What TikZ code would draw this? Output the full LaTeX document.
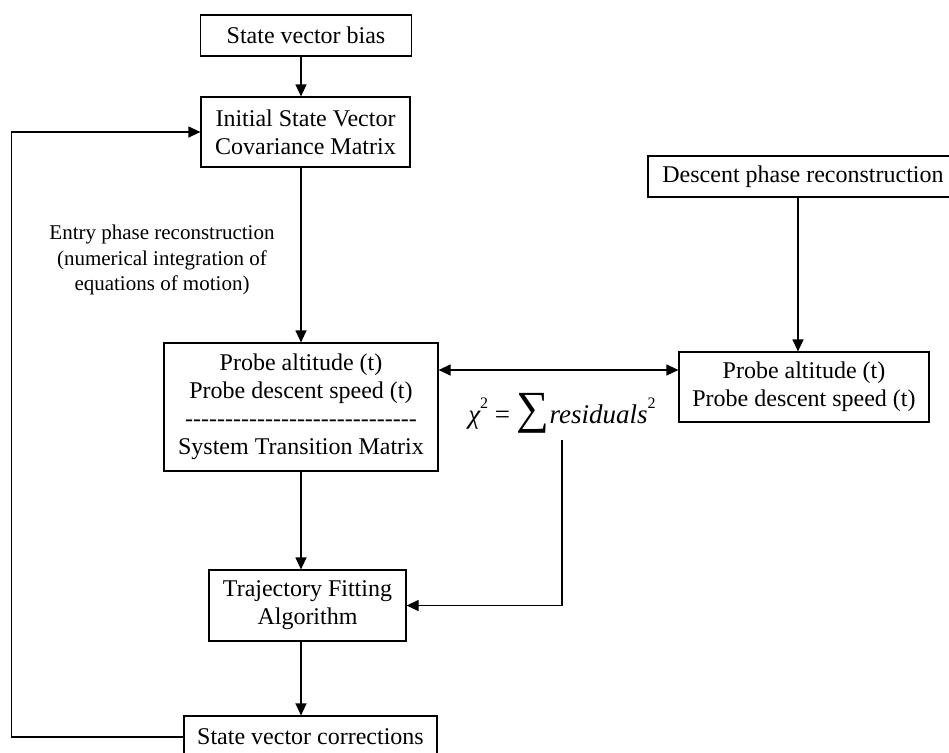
\documentclass[tikz,border=0pt]{standalone}
\usepackage{fontspec}
\setmainfont{Liberation Serif}
\usetikzlibrary{arrows.meta,positioning}

\newcommand{\dashfill}[1]{\foreach \k in {1,...,#1}{-}}
\newcommand{\supsmall}[1]{\raisebox{1.15ex}{\fontsize{8}{8}\selectfont #1}}

\begin{document}
\begin{tikzpicture}[x=0.5pt, y=-0.5pt, line width=0.6pt, >={Triangle[length=6pt,width=5.5pt]},
    every node/.style={font=\fontsize{12}{14}\selectfont},
    block/.style={draw, align=center, inner sep=0pt}]
    \useasboundingbox (0,0) rectangle (949,752);

    \node[block, minimum width=105.5pt, minimum height=20.5pt] (svb) at (306,35.5) {State vector bias};
    \node[block, minimum width=104.5pt, minimum height=35pt] (isv) at (305.5,132) {Initial State Vector\\Covariance Matrix};
    \node[block, minimum width=155pt, minimum height=20.5pt] (dpr) at (803,176.5) {Descent phase reconstruction};
    \node[block, minimum width=137pt, minimum height=64pt] (probe) at (301,407) {Probe altitude (t)\\Probe descent speed (t)\\\dashfill{29}\\System Transition Matrix};
    \node[block, minimum width=125pt, minimum height=35pt] (rbox) at (804,387) {Probe altitude (t)\\Probe descent speed (t)};
    \node[block, minimum width=98.5pt, minimum height=35.5pt] (tfa) at (307.5,605.5) {Trajectory Fitting\\Algorithm};
    \node[block, minimum width=126.5pt, minimum height=21pt] (svc) at (310.5,737) {State vector corrections};

    \node[align=center, font=\fontsize{10.5}{12.75}\selectfont] (entry) at (162,260) {Entry phase reconstruction\\(numerical integration of\\equations of motion)};
    \node[inner sep=3pt, font=\fontsize{13.5}{16}\selectfont] (chi) at (562,413) {{\itshape χ}\supsmall{2} = {\fontsize{23}{23}\selectfont ∑}{\itshape residuals}\supsmall{2}};

    \coordinate (spine) at (301,0);
    \coordinate (drop) at (798,0);
    \coordinate (link) at (0,370);

    \draw[->] (svb.south -| spine) -- (isv.north -| spine);
    \draw[->] (isv.south -| spine) -- (probe.north -| spine);
    \draw[->] (probe.south -| spine) -- (tfa.north -| spine);
    \draw[->] (tfa.south -| spine) -- (svc.north -| spine);
    \draw[->] (dpr.south -| drop) -- (rbox.north -| drop);
    \draw[<->] (probe.east |- link) -- (rbox.west |- link);
    \draw[->] (chi.south) |- (tfa.east);
    \draw[->] (svc.west) -- ++(-172,0) |- (isv.west);
\end{tikzpicture}
\end{document}
